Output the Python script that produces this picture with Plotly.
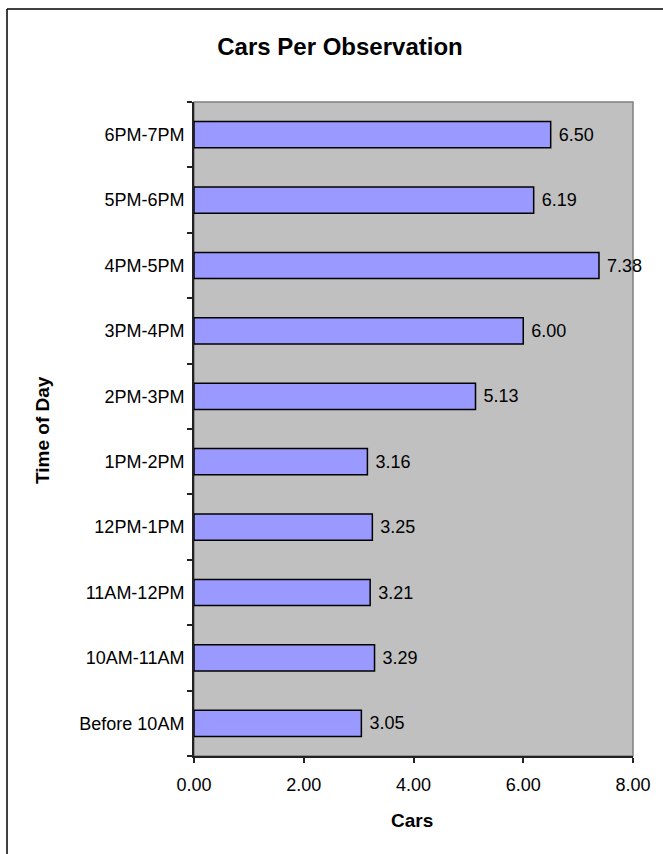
import plotly.graph_objects as go

categories = ["Before 10AM", "10AM-11AM", "11AM-12PM", "12PM-1PM", "1PM-2PM",
              "2PM-3PM", "3PM-4PM", "4PM-5PM", "5PM-6PM", "6PM-7PM"]
cars = [3.05, 3.29, 3.21, 3.25, 3.16, 5.13, 6.00, 7.38, 6.19, 6.50]
x_ticks = [0, 2, 4, 6, 8]

W, H = 663, 854
L, R, T, B = 194, 30, 102, 98
PW, PH = W - L - R, H - T - B

FONT = "Liberation Sans, Arial, sans-serif"

def px_x(p):
    return (p - L) / PW

def px_y(p):
    return 1 - (p - T) / PH

fig = go.Figure()
fig.add_trace(go.Bar(
    y=categories, x=cars, orientation="h",
    width=0.4,
    marker=dict(color="#9999FF", line=dict(color="#000000", width=1.5)),
    text=[f" {v:.2f}" for v in cars],
    textposition="outside",
    constraintext="none",
    cliponaxis=False,
    textfont=dict(family=FONT, size=18, color="#000000"),
    hoverinfo="skip",
))

fig.update_layout(
    width=W, height=H,
    margin=dict(l=L, r=R, t=T, b=B),
    paper_bgcolor="#FFFFFF",
    plot_bgcolor="#C0C0C0",
    showlegend=False,
    font=dict(family=FONT, size=18, color="#000000"),
    title=dict(text="<b>Cars Per Observation</b>", xref="container", yref="container",
               x=340 / W, y=1 - 47 / H, xanchor="center", yanchor="middle",
               font=dict(family=FONT, size=24, color="#000000")),
    xaxis=dict(range=[0, 8], tickvals=x_ticks, ticktext=[f"{v:.2f}" for v in x_ticks],
               showgrid=False, zeroline=False, showline=True, linecolor="#222222", linewidth=2,
               ticks="outside", ticklen=5, tickcolor="#222222", tickwidth=1.5,
               tickfont=dict(family=FONT, size=18, color="#000000"), ticklabelstandoff=6),
    yaxis=dict(type="category", categoryorder="array", categoryarray=categories,
               showgrid=False, zeroline=False, showline=True, linecolor="#222222", linewidth=2,
               ticks="outside", tickson="boundaries", ticklen=5, tickcolor="#222222", tickwidth=1.5,
               tickfont=dict(family=FONT, size=18, color="#000000"), ticklabelstandoff=4),
    bargap=0.6,
)

# plot-area frame (gray top/right)
fig.add_shape(type="rect", xref="paper", yref="paper", x0=0, x1=1, y0=0, y1=1,
              line=dict(color="#808080", width=1.5), layer="below")
# outer chart border (top and left visible)
fig.add_shape(type="line", xref="paper", yref="paper",
              x0=px_x(7), x1=px_x(W + 5), y0=px_y(9), y1=px_y(9),
              line=dict(color="#000000", width=1.5))
fig.add_shape(type="line", xref="paper", yref="paper",
              x0=px_x(7), x1=px_x(7), y0=px_y(9), y1=px_y(H + 5),
              line=dict(color="#000000", width=1.5))

# axis titles
fig.add_annotation(text="<b>Cars</b>", xref="paper", yref="paper",
                   x=px_x(412), y=px_y(820), xanchor="center", yanchor="middle",
                   showarrow=False, font=dict(family=FONT, size=19, color="#000000"))
fig.add_annotation(text="<b>Time of Day</b>", xref="paper", yref="paper",
                   x=px_x(43), y=px_y(430), xanchor="center", yanchor="middle",
                   textangle=-90, showarrow=False,
                   font=dict(family=FONT, size=19, color="#000000"))

fig.write_html("out.html")
